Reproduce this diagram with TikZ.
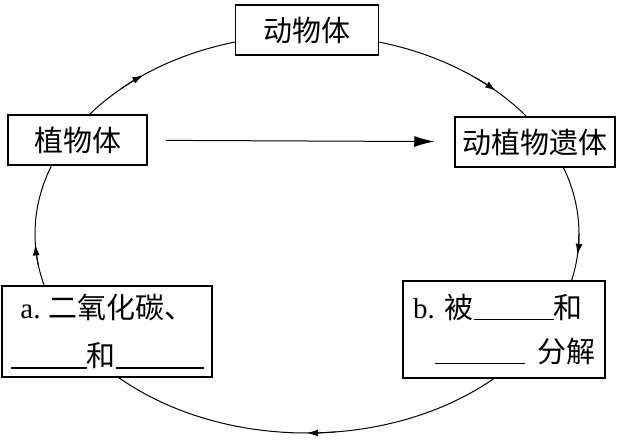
\documentclass[tikz,border=0pt]{standalone}
\usepackage{fontspec}
\setmainfont{Liberation Serif}
\newfontfamily\cjk{Noto Sans CJK SC}
\usepackage{tikz}
\usetikzlibrary{arrows.meta, positioning, calc}

\begin{document}
\begin{tikzpicture}[
  x=1pt, y=1pt,
  box/.style={rectangle, draw, line width=1.5pt, fill=white, inner sep=0pt, align=center, font=\cjk\fontsize{29}{48}\selectfont},
  cyc/.style={line width=1pt},
  tip/.style={-{Latex[length=11pt, width=7pt]}, line width=1pt},
  arr/.style={-{Latex[length=20pt, width=11pt]}, line width=1pt},
]
\useasboundingbox (0,0) rectangle (620,439);

% the cycle
\coordinate (c) at (307,205);
\draw[cyc] (c) ellipse [x radius=272, y radius=199];
\foreach \t in {127,46,354,270,183}
  \draw[tip] ($(c)+(\t+6:272 and 199)$) arc[start angle=\t+6, end angle=\t, x radius=272, y radius=199];

% Row 1
\node[box, minimum width=143pt, minimum height=50pt] (animal) at (307,409) {动物体};

% Row 2
\node[box, minimum width=139pt, minimum height=50pt] (plant) at (77.5,299) {植物体};
\node[box, minimum width=160pt, minimum height=50pt] (remains) at (535,297) {动植物遗体};

% Row 3
\node[box, minimum width=210pt, minimum height=91pt] (co2) at (107,107.5)
  {{\rmfamily a.}\hspace{8pt}二氧化碳、\\
   \rule[-2pt]{76pt}{1.2pt}和\rule[-2pt]{88pt}{1.2pt}};
\node[box, align=left, minimum width=202pt, minimum height=97pt] (decomp) at (504,109.5)
  {{\rmfamily b.}\hspace{10pt}被\rule[-2pt]{80pt}{1.2pt}和\\[-4pt]
   \hspace{22pt}\rule[-2pt]{90pt}{1.2pt}\hspace{12pt}分解};

% Arrows
\draw[arr, shorten <=18pt, shorten >=20pt] (plant) -- (remains);

\end{tikzpicture}
\end{document}
